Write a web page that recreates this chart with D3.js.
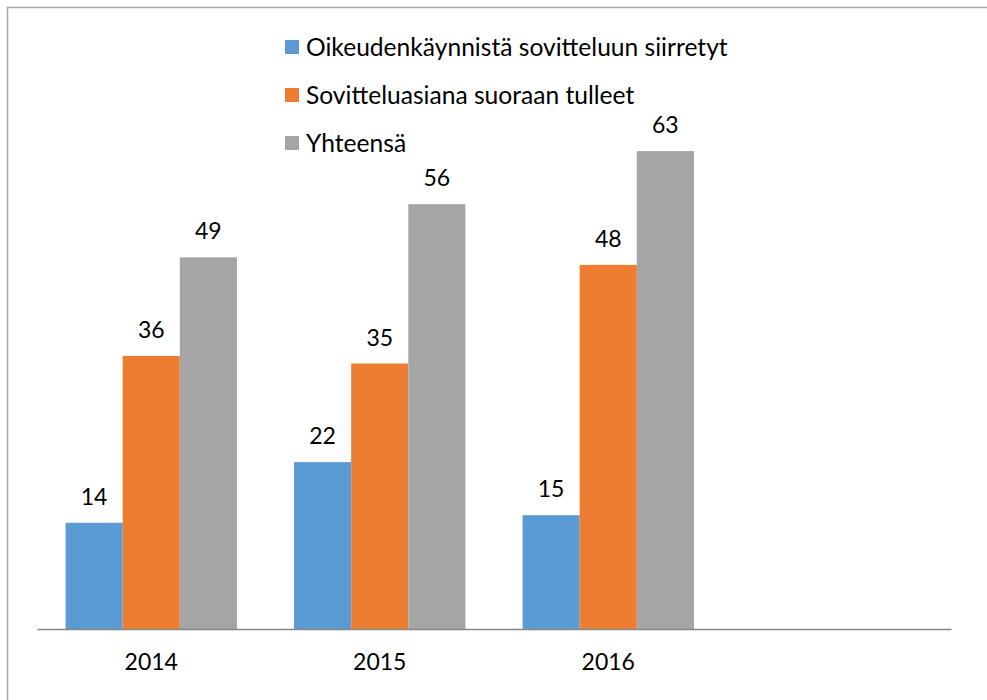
<!DOCTYPE html>
<html>
<head>
<meta charset="utf-8">
<script src="https://cdn.jsdelivr.net/npm/d3@7"></script>
<style>
  body { margin: 0; background: #fff; }
  svg { display: block; font-family: Lato, "Open Sans", sans-serif; }
</style>
</head>
<body>
<div id="chart"></div>
<script>
// data
var years  = ["2014", "2015", "2016", ""]
var series = ["Oikeudenkäynnistä sovitteluun siirretyt", "Sovitteluasiana suoraan tulleet", "Yhteensä"]
var siirretyt = [14, 22, 15]
var suoraan   = [36, 35, 48]
var yhteensa  = [49, 56, 63]
var colors    = ["#5b9bd5", "#ed7d31", "#a5a5a5"]

var values = [siirretyt, suoraan, yhteensa]
var rows = years.slice(0, 3).map(function (y, i) {
  return { year: y, vals: values.map(v => v[i]) }
})

var width = 987, height = 700
var svg = d3.select("#chart").append("svg")
  .attr("width", width)
  .attr("height", height)

// outer frame (left/top only visible)
svg.append("rect")
  .attr("x", 7.5).attr("y", 7.5)
  .attr("width", 1100).attr("height", 800)
  .attr("fill", "none")
  .attr("stroke", "#a6a6a6")
  .attr("stroke-width", 1.5)

var x = d3.scaleBand()
  .domain(years)
  .range([37, 951])

var x1 = d3.scaleBand()
  .domain(d3.range(series.length))
  .range([0, x.bandwidth()])
  .paddingInner(0)
  .paddingOuter(0.5)

var y = d3.scaleLinear()
  .domain([0, 70])
  .range([629, 98])

var groups = svg.selectAll("g.year").data(rows)
  .enter().append("g")
  .attr("class", "year")
  .attr("transform", d => `translate(${x(d.year)},0)`)

groups.selectAll("rect").data(d => d.vals)
  .enter().append("rect")
  .attr("x", (d, i) => x1(i))
  .attr("y", d => y(d))
  .attr("width", x1.bandwidth())
  .attr("height", d => y(0) - y(d))
  .attr("fill", (d, i) => colors[i])

groups.selectAll("text").data(d => d.vals)
  .enter().append("text")
  .attr("x", (d, i) => x1(i) + x1.bandwidth() / 2)
  .attr("y", d => y(d) - 18)
  .attr("text-anchor", "middle")
  .style("font-size", "23px")
  .attr("fill", "#000")
  .text(d => d)

// x axis
var xAxis = svg.append("g")
  .attr("transform", `translate(0,${y(0)})`)
  .call(d3.axisBottom(x).tickSize(0).tickPadding(25))
xAxis.select(".domain").attr("stroke", "#868686").attr("stroke-width", 1.5)
xAxis.selectAll("text")
  .style("font-size", "23px")
  .style("font-family", "Lato, sans-serif")
  .attr("fill", "#000")

// legend
var legend = svg.selectAll(".legend").data(series)
  .enter().append("g")
  .attr("class", "legend")
  .attr("transform", (d, i) => `translate(285,${47 + i * 48})`)

legend.append("rect")
  .attr("x", 0).attr("y", -7)
  .attr("width", 14).attr("height", 14)
  .attr("fill", (d, i) => colors[i])

legend.append("text")
  .attr("x", 21)
  .attr("y", 0)
  .attr("dy", "0.35em")
  .style("font-size", "24.6px")
  .attr("fill", "#000")
  .text(d => d)
</script>
</body>
</html>
